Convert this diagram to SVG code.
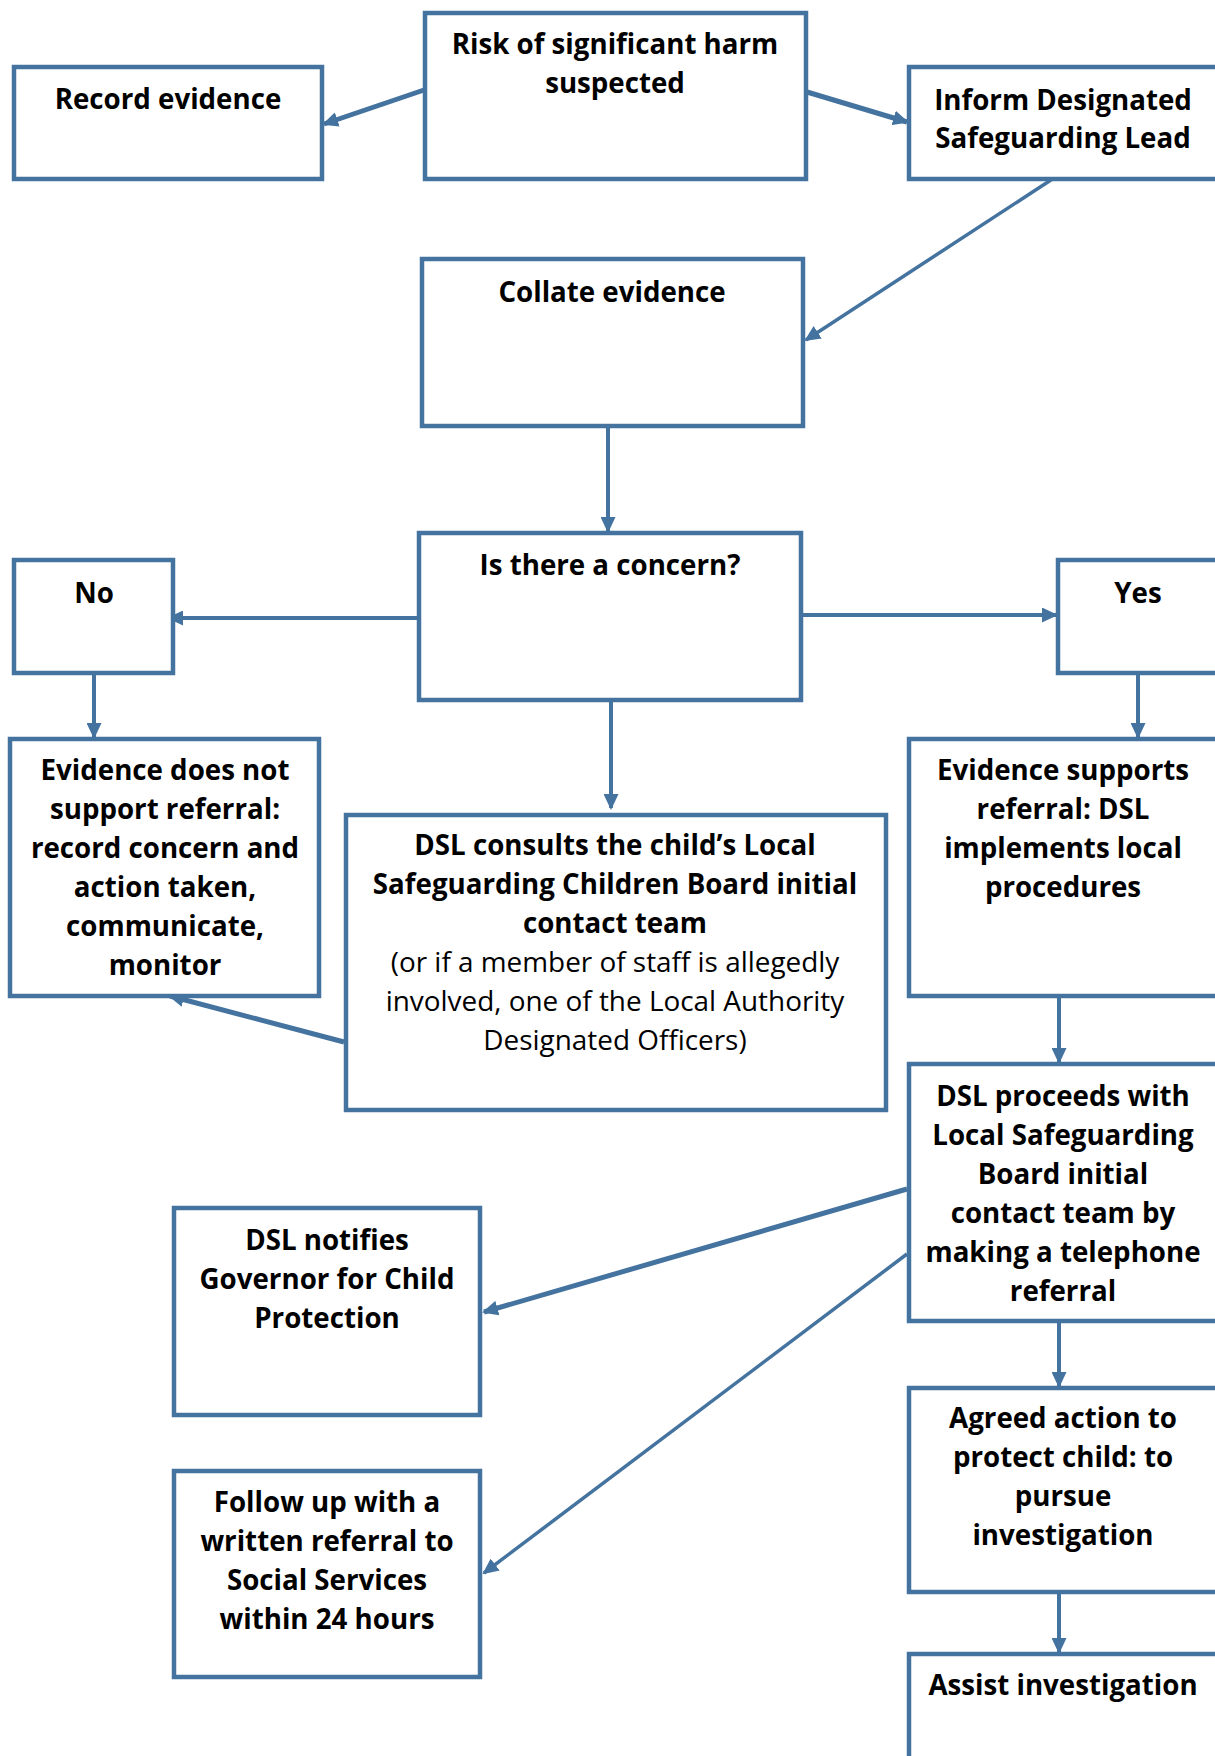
<svg xmlns="http://www.w3.org/2000/svg" width="1215" height="1756" viewBox="0 0 1215 1756">
<defs>
<style>
.box{fill:#fff;stroke:#44739F;stroke-width:4.5}
.c{fill:none;stroke:#44739F;stroke-width:4}
.t{font-family:"Open Sans","Noto Sans","Liberation Sans",sans-serif;font-size:27.7px;font-weight:bold;fill:#000;text-anchor:middle}
.r{font-weight:normal;font-size:27.9px}
</style>
<marker id="ah" markerUnits="userSpaceOnUse" viewBox="0 0 16 15" markerWidth="16" markerHeight="15" refX="14" refY="7.5" orient="auto">
<path d="M0,0 L16,7.5 L0,15 z" fill="#44739F"/>
</marker>
</defs>
<rect width="1215" height="1756" fill="#fff"/>
<g id="connectors">
<line class="c" x1="424" y1="90" x2="324" y2="124" marker-end="url(#ah)" style="stroke-width:5"/>
<line class="c" x1="807" y1="92" x2="907" y2="122" marker-end="url(#ah)" style="stroke-width:5"/>
<line class="c" x1="1057" y1="176" x2="806" y2="340" marker-end="url(#ah)" style="stroke-width:3.5"/>
<line class="c" x1="608" y1="428" x2="608" y2="531" marker-end="url(#ah)"/>
<line class="c" x1="417" y1="618" x2="169" y2="618" marker-end="url(#ah)"/>
<line class="c" x1="803" y1="615" x2="1056" y2="615" marker-end="url(#ah)"/>
<line class="c" x1="611" y1="701" x2="611" y2="808" marker-end="url(#ah)"/>
<line class="c" x1="94" y1="675" x2="94" y2="737" marker-end="url(#ah)"/>
<line class="c" x1="1138" y1="675" x2="1138" y2="737" marker-end="url(#ah)"/>
<line class="c" x1="344" y1="1042" x2="170" y2="996" marker-end="url(#ah)" style="stroke-width:5"/>
<line class="c" x1="1059" y1="998" x2="1059" y2="1062" marker-end="url(#ah)"/>
<line class="c" x1="907" y1="1189" x2="484" y2="1312" marker-end="url(#ah)" style="stroke-width:5"/>
<line class="c" x1="907" y1="1254" x2="484" y2="1573" marker-end="url(#ah)" style="stroke-width:3.5"/>
<line class="c" x1="1059" y1="1323" x2="1059" y2="1386" marker-end="url(#ah)"/>
<line class="c" x1="1059" y1="1594" x2="1059" y2="1652" marker-end="url(#ah)"/>
</g>
<g id="risk"><rect class="box" x="425" y="13" width="381" height="166"/>
<text class="t" x="615" y="54">Risk of significant harm</text>
<text class="t" x="615" y="93">suspected</text></g>
<g id="record"><rect class="box" x="14" y="67" width="308" height="112"/>
<text class="t" x="168" y="109">Record evidence</text></g>
<g id="inform"><rect class="box" x="909" y="67" width="320" height="112"/>
<text class="t" x="1063" y="110">Inform Designated</text>
<text class="t" x="1063" y="148">Safeguarding Lead</text></g>
<g id="collate"><rect class="box" x="422" y="259" width="381" height="167"/>
<text class="t" x="612" y="302">Collate evidence</text></g>
<g id="concern"><rect class="box" x="419" y="533" width="382" height="167"/>
<text class="t" x="610" y="575">Is there a concern?</text></g>
<g id="no"><rect class="box" x="14" y="560" width="159" height="113"/>
<text class="t" x="94" y="603">No</text></g>
<g id="yes"><rect class="box" x="1058" y="560" width="170" height="113"/>
<text class="t" x="1138" y="603">Yes</text></g>
<g id="evnot"><rect class="box" x="10" y="739" width="309" height="257"/>
<text class="t" x="165" y="780">Evidence does not</text>
<text class="t" x="165" y="819">support referral:</text>
<text class="t" x="165" y="858">record concern and</text>
<text class="t" x="165" y="897">action taken,</text>
<text class="t" x="165" y="936">communicate,</text>
<text class="t" x="165" y="975">monitor</text></g>
<g id="consult"><rect class="box" x="346" y="815" width="540" height="295"/>
<text class="t" x="615" y="855">DSL consults the child’s Local</text>
<text class="t" x="615" y="894">Safeguarding Children Board initial</text>
<text class="t" x="615" y="933">contact team</text>
<text class="t r" x="615" y="972">(or if a member of staff is allegedly</text>
<text class="t r" x="615" y="1011">involved, one of the Local Authority</text>
<text class="t r" x="615" y="1050">Designated Officers)</text></g>
<g id="evsup"><rect class="box" x="909" y="739" width="310" height="257"/>
<text class="t" x="1063" y="780">Evidence supports</text>
<text class="t" x="1063" y="819">referral: DSL</text>
<text class="t" x="1063" y="858">implements local</text>
<text class="t" x="1063" y="897">procedures</text></g>
<g id="proceeds"><rect class="box" x="909" y="1064" width="310" height="257"/>
<text class="t" x="1063" y="1106">DSL proceeds with</text>
<text class="t" x="1063" y="1145">Local Safeguarding</text>
<text class="t" x="1063" y="1184">Board initial</text>
<text class="t" x="1063" y="1223">contact team by</text>
<text class="t" x="1063" y="1262">making a telephone</text>
<text class="t" x="1063" y="1301">referral</text></g>
<g id="notifies"><rect class="box" x="174" y="1208" width="306" height="207"/>
<text class="t" x="327" y="1250">DSL notifies</text>
<text class="t" x="327" y="1289">Governor for Child</text>
<text class="t" x="327" y="1328">Protection</text></g>
<g id="follow"><rect class="box" x="174" y="1471" width="306" height="206"/>
<text class="t" x="327" y="1512">Follow up with a</text>
<text class="t" x="327" y="1551">written referral to</text>
<text class="t" x="327" y="1590">Social Services</text>
<text class="t" x="327" y="1629">within 24 hours</text></g>
<g id="agreed"><rect class="box" x="909" y="1388" width="310" height="204"/>
<text class="t" x="1063" y="1428">Agreed action to</text>
<text class="t" x="1063" y="1467">protect child: to</text>
<text class="t" x="1063" y="1506">pursue</text>
<text class="t" x="1063" y="1545">investigation</text></g>
<g id="assist"><rect class="box" x="909" y="1654" width="310" height="200"/>
<text class="t" x="1063" y="1695">Assist investigation</text></g>
</svg>
